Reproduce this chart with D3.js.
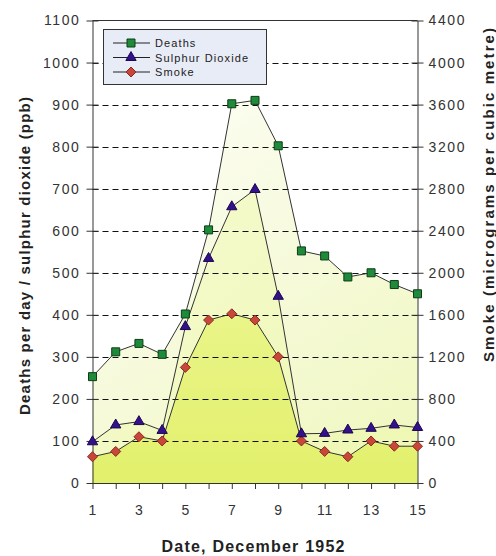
<!DOCTYPE html>
<html><head><meta charset="utf-8">
<script src="https://cdn.jsdelivr.net/npm/d3@7/dist/d3.min.js"></script>
<style>
html,body{margin:0;padding:0;background:#fff;}
svg{display:block;font-family:"Liberation Sans",Arial,sans-serif;}
</style></head>
<body>
<svg id="chart" width="496" height="556"></svg>
<script>
// ---- data ----
const days = [1,2,3,4,5,6,7,8,9,10,11,12,13,14,15];
const deaths = [253,312,332,306,402,602,902,910,802,552,540,490,500,472,450];
const sulphurDioxide = [98,138,146,125,372,534,657,698,444,117,118,126,130,138,132];
const smoke = [250,300,440,400,1100,1550,1610,1550,1200,400,300,250,400,350,350];
const leftTicks = [0,100,200,300,400,500,600,700,800,900,1000,1100];
const rightTicks = [0,400,800,1200,1600,2000,2400,2800,3200,3600,4000,4400];
const xTickLabels = [1,3,5,7,9,11,13,15];
const seriesNames = ["Deaths","Sulphur Dioxide","Smoke"];

// ---- layout ----
const X0 = 92.5, X1 = 417.5, YB = 483, YT = 20.5;
const svg = d3.select("#chart");
const x = d3.scaleLinear().domain([1,15]).range([X0,X1]);
const yL = d3.scaleLinear().domain([0,1100]).range([YB,YT]);
const yR = d3.scaleLinear().domain([0,4400]).range([YB,YT]);

const defs = svg.append("defs");
function grad(id, x1,y1,x2,y2, stops){
  const g = defs.append("linearGradient").attr("id",id).attr("gradientUnits","userSpaceOnUse")
    .attr("x1",x1).attr("y1",y1).attr("x2",x2).attr("y2",y2);
  stops.forEach(s=>g.append("stop").attr("offset",s[0]).attr("stop-color",s[1]));
}
grad("gD", X0, YT, X1, YB, [[0,"#ffffff"],[0.45,"#f8fbe2"],[1,"#eff7bc"]]);
grad("gS", X0, 200, X1, YB, [[0,"#f5fbd0"],[1,"#eef7b2"]]);
grad("gM", 0, 300, 0, YB, [[0,"#eaf58a"],[1,"#e2f06c"]]);

const areaL = d3.area().x((d,i)=>x(days[i])).y0(YB).y1(d=>yL(d));
const areaR = d3.area().x((d,i)=>x(days[i])).y0(YB).y1(d=>yR(d));
const lineL = d3.line().x((d,i)=>x(days[i])).y(d=>yL(d));
const lineR = d3.line().x((d,i)=>x(days[i])).y(d=>yR(d));

svg.append("path").attr("d",areaL(deaths)).attr("fill","url(#gD)");
svg.append("path").attr("d",areaL(sulphurDioxide)).attr("fill","url(#gS)");
svg.append("path").attr("d",areaR(smoke)).attr("fill","url(#gM)");

// gridlines
svg.append("g").selectAll("line").data(leftTicks.filter(t=>t>0&&t<1100)).join("line")
  .attr("x1",X0).attr("x2",X1).attr("y1",d=>Math.round(yL(d))+0.5).attr("y2",d=>Math.round(yL(d))+0.5)
  .attr("stroke","#111").attr("stroke-width",1.2).attr("stroke-dasharray","6,4");

// frame: top line
svg.append("line").attr("x1",X0).attr("x2",X1).attr("y1",YT).attr("y2",YT).attr("stroke","#333").attr("stroke-width",1);

// axes
const tickFont = g=>{g.selectAll("text").attr("font-size",14).attr("fill","#333").style("letter-spacing","1.6px");
  g.selectAll(".tick line").attr("stroke","#333"); g.select(".domain").attr("stroke","#333");};
const gl = svg.append("g").attr("transform",`translate(${X0},0)`)
  .call(d3.axisLeft(yL).tickValues(leftTicks).tickSize(6).tickSizeOuter(0).tickPadding(6).tickFormat(d3.format("d")));
gl.call(tickFont);
gl.selectAll(".tick line").attr("x1",6);
const gr = svg.append("g").attr("transform",`translate(${X1},0)`)
  .call(d3.axisRight(yR).tickValues(rightTicks).tickSize(6).tickSizeOuter(0).tickPadding(5).tickFormat(d3.format("d")));
gr.call(tickFont);
gr.selectAll(".tick line").attr("x1",-6);
const gb = svg.append("g").attr("transform",`translate(0,${YB})`)
  .call(d3.axisBottom(x).tickValues(days).tickSize(6).tickSizeOuter(0).tickPadding(16)
    .tickFormat(d=>xTickLabels.includes(d)?String(d):""));
gb.call(tickFont);
gb.selectAll("text").style("letter-spacing","1px");

// lines & markers
const lineColor = "#333";
svg.append("path").attr("d",lineL(deaths)).attr("fill","none").attr("stroke",lineColor).attr("stroke-width",1);
svg.append("path").attr("d",lineL(sulphurDioxide)).attr("fill","none").attr("stroke",lineColor).attr("stroke-width",1);
svg.append("path").attr("d",lineR(smoke)).attr("fill","none").attr("stroke",lineColor).attr("stroke-width",1);

const sq = d3.symbol().type(d3.symbolSquare).size(64)();
const tri = d3.symbol().type(d3.symbolTriangle).size(46)();
const dia = "M0,-5L5,0L0,5L-5,0Z";
const styles = [
  {path:sq, fill:"#1f8a3a", stroke:"#0d3d16"},
  {path:tri, fill:"#33118a", stroke:"#1a0550"},
  {path:dia, fill:"#c8463a", stroke:"#8a2a20"}
];
function markers(vals, sc, st){
  svg.append("g").selectAll("path").data(vals).join("path")
    .attr("d",st.path).attr("transform",(d,i)=>`translate(${x(days[i])},${sc(d)})`)
    .attr("fill",st.fill).attr("stroke",st.stroke).attr("stroke-width",1);
}
markers(smoke, yR, styles[2]);
markers(sulphurDioxide, yL, styles[1]);
markers(deaths, yL, styles[0]);

// legend
const lg = svg.append("g");
lg.append("rect").attr("x",103.5).attr("y",29.5).attr("width",163).attr("height",55)
  .attr("fill","#e8ecf7").attr("stroke","#333").attr("stroke-width",1);
seriesNames.forEach((n,i)=>{
  const yy = 43 + i*14.5;
  lg.append("line").attr("x1",113).attr("x2",150).attr("y1",yy).attr("y2",yy).attr("stroke","#222");
  lg.append("path").attr("d",styles[i].path).attr("transform",`translate(131,${yy})`)
    .attr("fill",styles[i].fill).attr("stroke",styles[i].stroke);
  lg.append("text").attr("x",155).attr("y",yy+4).attr("font-size",11).attr("fill","#222")
    .style("letter-spacing","1.1px").text(n);
});

// titles
svg.append("text").attr("x",253).attr("y",552).attr("text-anchor","middle")
  .attr("font-size",16).attr("font-weight","bold").attr("fill","#222")
  .attr("textLength",183).attr("lengthAdjust","spacing").text("Date, December 1952");
svg.append("text").attr("transform","translate(30,256) rotate(-90)").attr("text-anchor","middle")
  .attr("font-size",15).attr("font-weight","bold").attr("fill","#222")
  .attr("textLength",318).attr("lengthAdjust","spacing").text("Deaths per day / sulphur dioxide (ppb)");
svg.append("text").attr("transform","translate(494,195) rotate(-90)").attr("text-anchor","middle")
  .attr("font-size",15).attr("font-weight","bold").attr("fill","#222")
  .attr("textLength",334).attr("lengthAdjust","spacing").text("Smoke (micrograms per cubic metre)");
</script>
</body></html>
